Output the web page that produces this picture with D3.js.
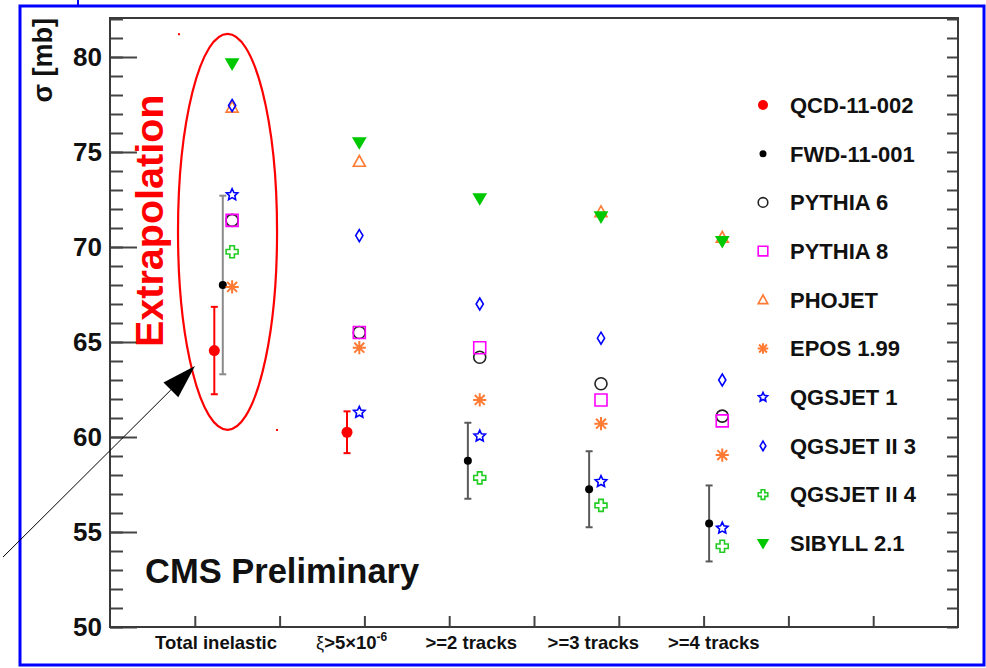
<!DOCTYPE html>
<html>
<head>
<meta charset="utf-8">
<script src="https://cdn.jsdelivr.net/npm/d3@7"></script>
<style>
  body { margin: 0; background: #fff; }
  svg { display: block; }
  text { font-family: "Liberation Sans", Arial, Helvetica, sans-serif; }
</style>
</head>
<body>
<svg id="chart" width="986" height="668"></svg>
<script>
// ---- data -------------------------------------------------------------
const categories = ["Total inelastic", "ξ>5×10-6", ">=2 tracks", ">=3 tracks", ">=4 tracks"];
// category positions on the x axis (axis units, 10 bins)
const categoryX = [1.44, 2.94, 4.36, 5.79, 7.22];
const labelX    = [1.25, 2.85, 4.26, 5.70, 7.12];

// measurements
const qcdX      = [1.23, 2.795, null, null, null];
const qcdValues = [64.55, 60.25, null, null, null];
const qcdErrors = [2.3, 1.1, null, null, null];

const fwdX      = [1.33, null, 4.22, 5.65, 7.065];
const fwdValues = [68.0, null, 58.75, 57.25, 55.45];
const fwdErrors = [4.7, null, 2.0, 2.0, 2.0];

// model predictions [mb]
const pythia6  = [71.4, 65.5, 64.2, 62.8, 61.1];
const pythia8  = [71.4, 65.5, 64.7, 61.95, 60.85];
const phojet   = [77.35, 74.5, null, 71.85, 70.5];
const epos     = [67.9, 64.7, 61.95, 60.7, 59.05];
const qgsjet1  = [72.75, 61.3, 60.05, 57.65, 55.2];
const qgsjet23 = [77.45, 70.6, 67.0, 65.2, 63.0];
const qgsjet24 = [69.75, null, 57.85, 56.4, 54.25];
const sibyll   = [79.65, 75.5, 72.55, 71.6, 70.3];

const legendNames = ["QCD-11-002", "FWD-11-001", "PYTHIA 6", "PYTHIA 8", "PHOJET",
                     "EPOS 1.99", "QGSJET 1", "QGSJET II 3", "QGSJET II 4", "SIBYLL 2.1"];

const yMajorTicks = [50, 55, 60, 65, 70, 75, 80];

// ---- styling per series ----------------------------------------------
const RED = "#ff0000", ORANGE = "#ff7a33", BLUE = "#0000ff",
      GREEN = "#00c800", MAGENTA = "#ff00ff", DARK = "#222";

const models = [
  { values: pythia6,  marker: "circleOpen", color: DARK },
  { values: pythia8,  marker: "square",     color: MAGENTA },
  { values: phojet,   marker: "triUp",      color: ORANGE },
  { values: epos,     marker: "asterisk",   color: ORANGE },
  { values: qgsjet1,  marker: "star",       color: BLUE },
  { values: qgsjet23, marker: "diamond",    color: BLUE },
  { values: qgsjet24, marker: "crossOpen",  color: "#22cc22" },
  { values: sibyll,   marker: "triDown",    color: GREEN }
];
const legendMarkers = [
  { marker: "dotBig", color: RED },
  { marker: "dot", color: "#000" },
  ...models.map(m => ({ marker: m.marker, color: m.color }))
];

// ---- layout -----------------------------------------------------------
const svg = d3.select("#chart");
const x = d3.scaleLinear().domain([0, 10]).range([110, 958]);
const y = d3.scaleLinear().domain([50, 82]).range([627, 19]);

svg.append("rect").attr("width", 986).attr("height", 668).attr("fill", "#fff");

// outer blue frame
svg.append("rect").attr("x", 20).attr("y", 6).attr("width", 964).attr("height", 659)
  .attr("fill", "none").attr("stroke", "#0000ff").attr("stroke-width", 3);
svg.append("line").attr("x1", 78).attr("x2", 78).attr("y1", 0).attr("y2", 6)
  .attr("stroke", "#0000ff").attr("stroke-width", 2);

// ---- axes ---------------------------------------------------------------
const axisColor = "#444";
function styleAxis(g) {
  g.select(".domain").remove();
  g.selectAll(".tick line").attr("stroke", axisColor).attr("stroke-width", 2);
}

svg.append("g").attr("transform", `translate(${x(0)},0)`)
  .call(d3.axisLeft(y).tickValues(d3.range(50, 83)).tickSize(-13).tickFormat(""))
  .call(styleAxis);

svg.append("g").attr("transform", `translate(${x(0)},0)`)
  .call(d3.axisLeft(y).tickValues(yMajorTicks).tickSize(-27).tickPadding(8).tickFormat(d3.format("d")))
  .call(styleAxis)
  .call(g => g.selectAll(".tick text")
    .attr("fill", "#111").attr("font-size", 26).attr("font-weight", "bold")
    .attr("font-family", "'Liberation Sans', Arial, sans-serif"));

svg.append("g").attr("transform", `translate(${x(10)},0)`)
  .call(d3.axisRight(y).tickValues(d3.range(50, 83)).tickSize(-11).tickFormat(""))
  .call(styleAxis);

svg.append("g").attr("transform", `translate(0,${y(50)})`)
  .call(d3.axisBottom(x).tickValues(d3.range(1, 10)).tickSize(-11).tickFormat(""))
  .call(styleAxis);

// plot frame
svg.append("rect").attr("x", x(0)).attr("y", 18).attr("width", x(10) - x(0)).attr("height", y(50) - 18)
  .attr("fill", "none").attr("stroke", "#3a3a3a").attr("stroke-width", 2);

// y axis title
svg.append("text")
  .attr("transform", `translate(52,18) rotate(-90)`)
  .attr("text-anchor", "end").attr("font-size", 27).attr("font-weight", "bold").attr("fill", "#111")
  .text("σ [mb]");

// category labels
const catLabels = svg.append("g").attr("font-weight", "bold").attr("font-size", 18.5).attr("fill", "#111");
categories.forEach((c, i) => {
  const t = catLabels.append("text").attr("x", x(labelX[i])).attr("y", 649).attr("text-anchor", "middle");
  if (i === 1) {
    t.append("tspan").attr("font-weight", "normal").attr("font-size", 18).text("ξ");
    t.append("tspan").text(">5×10");
    t.append("tspan").attr("font-size", 12).attr("dy", -8).text("-6");
  } else {
    t.text(c);
  }
});

// ---- markers -----------------------------------------------------------
function markerPath(type, h) {
  switch (type) {
    case "square": return `M${-h},${-h}H${h}V${h}H${-h}Z`;
    case "triUp": return `M0,${-h}L${h},${h * 0.8}L${-h},${h * 0.8}Z`;
    case "triDown": return `M${-h},${-h * 0.75}L${h},${-h * 0.75}L0,${h * 0.95}Z`;
    case "diamond": return `M0,${-h}L${h * 0.6},0L0,${h}L${-h * 0.6},0Z`;
    case "asterisk": {
      const d = h * 0.75;
      return `M${-h},0H${h}M0,${-h}V${h}M${-d},${-d}L${d},${d}M${-d},${d}L${d},${-d}`;
    }
    case "crossOpen": {
      const a = h * 0.38;
      return `M${-a},${-h}H${a}V${-a}H${h}V${a}H${a}V${h}H${-a}V${a}H${-h}V${-a}H${-a}Z`;
    }
    case "star": {
      const pts = [];
      for (let k = 0; k < 10; k++) {
        const r = k % 2 === 0 ? h : h * 0.48;
        const ang = -Math.PI / 2 + k * Math.PI / 5;
        pts.push([r * Math.cos(ang), r * Math.sin(ang)]);
      }
      return "M" + pts.map(p => p.map(v => v.toFixed(2)).join(",")).join("L") + "Z";
    }
  }
  return "";
}

function drawMarker(g, type, color, cx, cy, h) {
  if (type === "dotBig" || type === "dot") {
    g.append("circle").attr("cx", cx).attr("cy", cy).attr("r", h).attr("fill", color);
  } else if (type === "circleOpen") {
    g.append("circle").attr("cx", cx).attr("cy", cy).attr("r", h)
      .attr("fill", "none").attr("stroke", color).attr("stroke-width", 1.6);
  } else {
    const filled = type === "triDown";
    const hh = type === "asterisk" ? h * 1.1 : h;
    g.append("path").attr("transform", `translate(${cx},${cy})`).attr("d", markerPath(type, hh))
      .attr("fill", filled ? color : "none").attr("stroke", color)
      .attr("stroke-width", type === "asterisk" ? 2 : 1.6).attr("stroke-linejoin", "miter");
  }
}

function errorBar(g, cx, v, e, color, w) {
  g.append("line").attr("x1", cx).attr("x2", cx).attr("y1", y(v + e)).attr("y2", y(v - e))
    .attr("stroke", color).attr("stroke-width", w);
  [v + e, v - e].forEach(b => g.append("line")
    .attr("x1", cx - 3.5).attr("x2", cx + 3.5).attr("y1", y(b)).attr("y2", y(b))
    .attr("stroke", color).attr("stroke-width", w));
}

const plot = svg.append("g");

// annotation: ellipse around the extrapolated point
const ann = { cx: 1.386, cy: 70.8, rx: 0.584, ry: 10.42 };
plot.append("ellipse").attr("cx", x(ann.cx)).attr("cy", y(ann.cy))
  .attr("rx", x(ann.cx + ann.rx) - x(ann.cx)).attr("ry", y(ann.cy - ann.ry) - y(ann.cy))
  .attr("fill", "none").attr("stroke", RED).attr("stroke-width", 2.2);
[[0.814, 81.2], [1.969, 60.37]].forEach(([a, b]) =>
  plot.append("rect").attr("x", x(a) - 1).attr("y", y(b) - 1).attr("width", 2).attr("height", 2).attr("fill", RED));

// measurement error bars and points
fwdValues.forEach((v, i) => {
  if (v == null) return;
  errorBar(plot, x(fwdX[i]), v, fwdErrors[i], i === 0 ? "#8a8a8a" : "#5a5a5a", 2);
});
qcdValues.forEach((v, i) => {
  if (v == null) return;
  errorBar(plot, x(qcdX[i]), v, qcdErrors[i], RED, 2);
});
fwdValues.forEach((v, i) => {
  if (v == null) return;
  drawMarker(plot, "dot", "#000", x(fwdX[i]), y(v), 4);
});
qcdValues.forEach((v, i) => {
  if (v == null) return;
  drawMarker(plot, "dotBig", RED, x(qcdX[i]), y(v), 5.5);
});

// model predictions
models.forEach(m => {
  m.values.forEach((v, i) => {
    if (v == null) return;
    drawMarker(plot, m.marker, m.color, x(categoryX[i]), y(v), 6);
  });
});

// "Extrapolation" label and arrow
svg.append("text").attr("transform", "translate(163,347) rotate(-90)")
  .attr("font-size", 39.5).attr("font-weight", "bold").attr("fill", RED).text("Extrapolation");

const tail = [x(-1.262), y(53.68)], tip = [x(1.002), y(63.74)];
const ang = Math.atan2(tip[1] - tail[1], tip[0] - tail[0]);
const headLen = 34, headHalf = 10.5;
const base = [tip[0] - headLen * Math.cos(ang), tip[1] - headLen * Math.sin(ang)];
svg.append("line").attr("x1", tail[0]).attr("y1", tail[1]).attr("x2", base[0]).attr("y2", base[1])
  .attr("stroke", "#000").attr("stroke-width", 1);
svg.append("path")
  .attr("d", `M${tip[0]},${tip[1]}L${base[0] + headHalf * Math.sin(ang)},${base[1] - headHalf * Math.cos(ang)}` +
             `L${base[0] - headHalf * Math.sin(ang)},${base[1] + headHalf * Math.cos(ang)}Z`)
  .attr("fill", "#000");

// CMS label
svg.append("text").attr("x", 145).attr("y", 583).attr("font-size", 34.5).attr("font-weight", "bold")
  .attr("fill", "#111").text("CMS Preliminary");

// ---- legend -------------------------------------------------------------
const legend = svg.append("g");
legendNames.forEach((name, i) => {
  const cy = 105 + i * 48.7;
  const lm = legendMarkers[i];
  const h = lm.marker === "dotBig" ? 5 : lm.marker === "dot" ? 3.5 : 4.8;
  drawMarker(legend, lm.marker, lm.color, 763, cy, h);
  legend.append("text").attr("x", 790).attr("y", cy + 7.8)
    .attr("font-size", 22).attr("font-weight", "bold").attr("fill", "#111").text(name);
});
</script>
</body>
</html>
